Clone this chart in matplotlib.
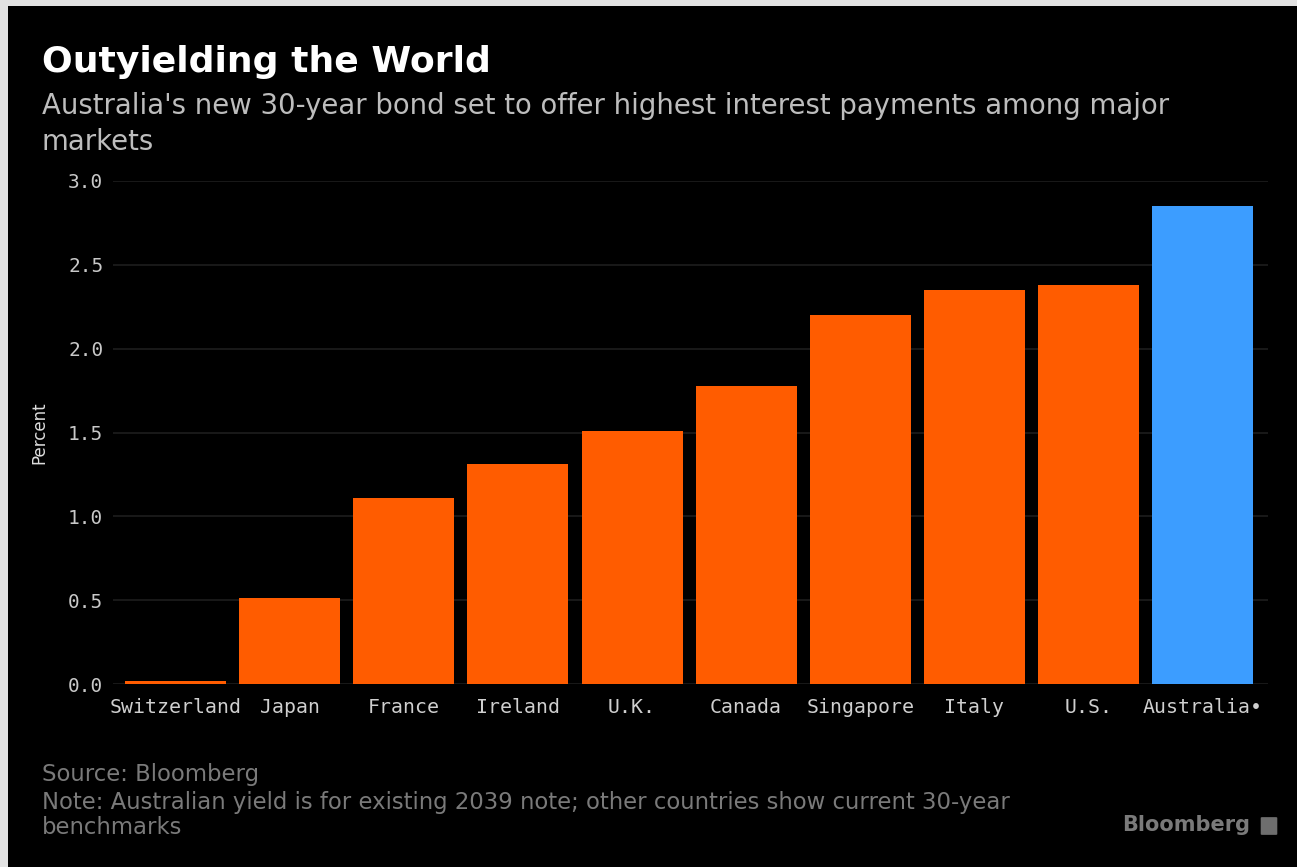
import matplotlib
matplotlib.use("Agg")
from matplotlib import pyplot as plt
from matplotlib.patches import Rectangle, FancyBboxPatch

countries = ["Switzerland", "Japan", "France", "Ireland", "U.K.",
             "Canada", "Singapore", "Italy", "U.S.", "Australia•"]
yields = [0.02, 0.51, 1.11, 1.31, 1.51, 1.78, 2.20, 2.35, 2.38, 2.85]
highlight = "Australia•"
yticks = [0.0, 0.5, 1.0, 1.5, 2.0, 2.5, 3.0]

ORANGE = "#ff5c00"
BLUE = "#3c9dff"
W, H = 1297, 867

fig = plt.figure(figsize=(W / 100, H / 100), dpi=100)
fig.patch.set_facecolor("#e2e2e2")
# black card with a thin grey margin on the left and top
fig.add_artist(Rectangle((8 / W, 0), 1 - 8 / W, 1 - 6 / H, transform=fig.transFigure,
                         facecolor="black", edgecolor="none", zorder=0))

ax = fig.add_axes([113 / W, 1 - 684 / H, (1268 - 113) / W, (684 - 181) / H])
ax.set_facecolor("black")

colors = [BLUE if c == highlight else ORANGE for c in countries]
x = range(len(countries))
ax.bar(x, yields, width=0.885, color=colors, zorder=3)

ax.set_xlim(-0.55, len(countries) - 0.425)
ax.set_ylim(0, 3.0)
ax.set_yticks(yticks)
ax.set_yticklabels(["%.1f" % t for t in yticks], family="DejaVu Sans Mono",
                   fontsize=14, color="#c8c8c8")
ax.set_xticks(list(x))
ax.set_xticklabels(countries, family="DejaVu Sans Mono", fontsize=14.3, color="#cfcfcf")
ax.tick_params(axis="both", length=0)
ax.tick_params(axis="y", pad=7)
ax.tick_params(axis="x", pad=10)
ax.grid(axis="y", color="#1e1e1e", linewidth=1.2, zorder=0)
for s in ax.spines.values():
    s.set_visible(False)

ax.set_ylabel("Percent", color="#dddddd", fontsize=12, labelpad=14)

fig.text(42 / W, 1 - 62 / H, "Outyielding the World", fontsize=26, fontweight="bold",
         color="white", va="center", ha="left")
fig.text(42 / W, 1 - 106 / H,
         "Australia's new 30-year bond set to offer highest interest payments among major",
         fontsize=19.8, color="#bdbdbd", va="center", ha="left")
fig.text(42 / W, 1 - 142 / H, "markets", fontsize=19.8, color="#bdbdbd", va="center", ha="left")

fig.text(42 / W, 1 - 775 / H, "Source: Bloomberg", fontsize=16.4, color="#7a7a7a",
         va="center", ha="left")
fig.text(42 / W, 1 - 802 / H,
         "Note: Australian yield is for existing 2039 note; other countries show current 30-year",
         fontsize=16.4, color="#7a7a7a", va="center", ha="left")
fig.text(42 / W, 1 - 828 / H, "benchmarks", fontsize=16.4, color="#7a7a7a",
         va="center", ha="left")

fig.text(1250 / W, 1 - 825 / H, "Bloomberg", fontsize=15, fontweight="bold",
         color="#7a7a7a", va="center", ha="right")
fig.add_artist(FancyBboxPatch((1262 / W, 1 - 834 / H), 14 / W, 16 / H,
                              boxstyle="round,pad=0.001", transform=fig.transFigure,
                              facecolor="#6e6e6e", edgecolor="none"))

fig.savefig("out.png", dpi=100, facecolor=fig.get_facecolor())
